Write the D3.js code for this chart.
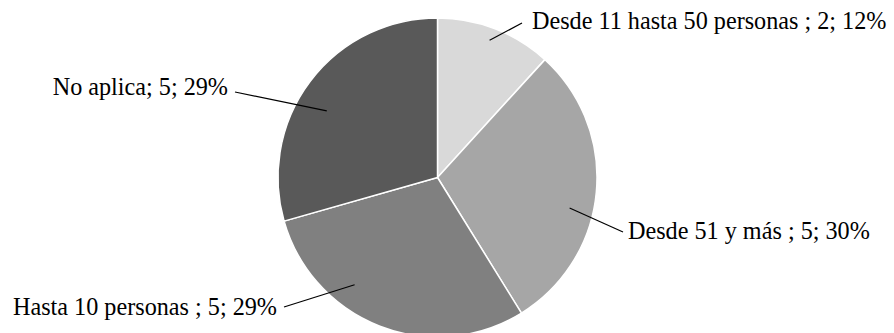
<!DOCTYPE html>
<html>
<head>
<meta charset="utf-8">
<script src="https://cdn.jsdelivr.net/npm/d3@7"></script>
<style>
  html, body { margin: 0; padding: 0; background: #fff; }
  svg { display: block; }
  text { font-family: "Liberation Serif", "DejaVu Serif", serif; fill: #000; }
</style>
</head>
<body>
<svg id="chart" width="894" height="333"></svg>
<script>
// Company size categories and respondent counts
const categories = ["Desde 11 hasta 50 personas ", "Desde 51 y más ", "Hasta 10 personas ", "No aplica"];
const counts = [2, 5, 5, 5];
const percents = ["12%", "30%", "29%", "29%"];
const colors = ["#d9d9d9", "#a6a6a6", "#808080", "#595959"];

// Label placement: leader start (angle in degrees from 12 o'clock, fraction of radius),
// leader end point, text baseline anchor and anchor side
const leaderStart = [[20.8, 0.92], [103, 0.85], [217.7, 0.85], [301, 0.81]];
const leaderEnd = [[522, 23], [623, 232], [284, 307], [235, 92]];
const labelAnchor = [[532, 29], [628, 239], [277, 315], [228, 95]];
const labelSide = ["start", "start", "end", "end"];

const svg = d3.select("#chart");
const cx = 437.5, cy = 177.5, r = 159.5;

const data = categories.map((c, i) => ({ name: c, value: counts[i], pct: percents[i], color: colors[i] }));

const pie = d3.pie().value(d => d.value).sort(null);
const arc = d3.arc().innerRadius(0).outerRadius(r);
const arcs = pie(data);

const g = svg.append("g").attr("transform", `translate(${cx},${cy})`);
g.selectAll("path")
  .data(arcs)
  .join("path")
  .attr("d", arc)
  .attr("fill", d => d.data.color)
  .attr("stroke", "#fff")
  .attr("stroke-width", 1.5)
  .attr("stroke-linejoin", "round");

// Leader lines and labels
arcs.forEach((a, i) => {
  const ang = leaderStart[i][0] * Math.PI / 180;
  const rr = leaderStart[i][1] * r;
  const x1 = cx + rr * Math.sin(ang), y1 = cy - rr * Math.cos(ang);
  const [x2, y2] = leaderEnd[i];
  svg.append("line")
    .attr("x1", x1).attr("y1", y1)
    .attr("x2", x2).attr("y2", y2)
    .attr("stroke", "#000").attr("stroke-width", 1.2);
  svg.append("text")
    .attr("x", labelAnchor[i][0])
    .attr("y", labelAnchor[i][1])
    .attr("text-anchor", labelSide[i])
    .attr("font-size", 24.2)
    .text(`${a.data.name}; ${a.data.value}; ${a.data.pct}`);
});
</script>
</body>
</html>
